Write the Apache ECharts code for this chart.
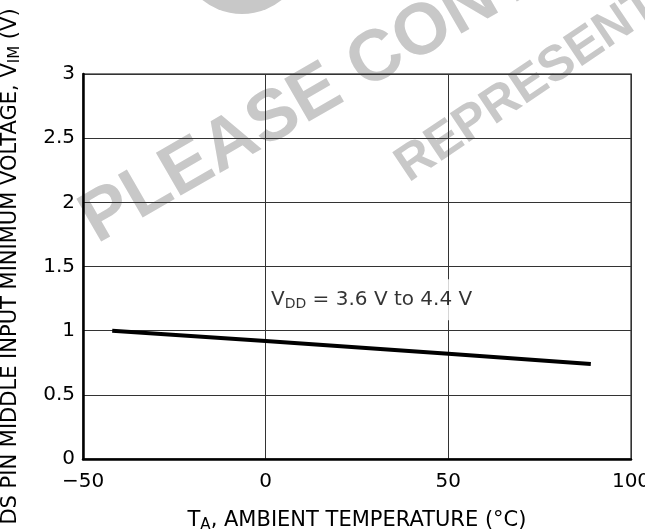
<!DOCTYPE html>
<html><head><meta charset="utf-8">
<script src="https://cdn.jsdelivr.net/npm/echarts@6/dist/echarts.min.js"></script>
<style>html,body{margin:0;padding:0;background:#fff}#c{width:645px;height:531px}</style>
</head><body><div id="c"></div>
<script>
// Data
const temperatures = [-42, 0, 50, 89];
const vimValues = [1.0, 0.92, 0.82, 0.74];
const xTicks = [-50, 0, 50, 100];
const yTicks = [0, 0.5, 1, 1.5, 2, 2.5, 3];
const annotationPoint = [29, 1.24];
const annotationText = '{v|V}{s|DD}{v| = 3.6 V to 4.4 V}';
const xTitle = '{v|T}{s|A}{v|, AMBIENT TEMPERATURE (°C)}';
const yTitle = '{v|DS PIN MIDDLE INPUT MINIMUM VOLTAGE, V}{s|IM}{v| (V)}';
const watermark1 = 'PLEASE CONTACT';
const watermark2 = 'REPRESENTATIVE';

const FONT = "'DejaVu Sans', 'Liberation Sans', Arial, sans-serif";
const WFONT = "'Liberation Sans', Arial, sans-serif";
const chart = echarts.init(document.getElementById('c'), null, {renderer: 'canvas'});
const richLabel = {
  v: {fontSize: 20, fontFamily: FONT, color: '#000'},
  s: {fontSize: 14, fontFamily: FONT, color: '#000', padding: [9, 0, 0, 0]}
};
const richTitle = {
  v: {fontSize: 21, fontFamily: FONT, color: '#000'},
  s: {fontSize: 15, fontFamily: FONT, color: '#000', padding: [10, 0, 0, 0]}
};
chart.setOption({
  animation: false,
  backgroundColor: '#fff',
  grid: {left: 83, right: 14, top: 74, bottom: 72, containLabel: false, outerBoundsMode: 'none',
    show: true, borderColor: '#555', borderWidth: 1.5},
  graphic: [
    {type: 'circle', z: -10, shape: {cx: 242, cy: -49, r: 63}, style: {fill: '#c8c8c8'}},
    {type: 'text', z: -10, x: 105, y: 258, rotation: 30 * Math.PI / 180,
      style: {text: watermark1, fill: '#c8c8c8', font: 'bold 72px ' + WFONT, textVerticalAlign: 'bottom'}},
    {type: 'text', z: -10, x: 415, y: 192, rotation: 34 * Math.PI / 180,
      style: {text: watermark2, fill: '#c8c8c8', font: 'bold 50px ' + WFONT, textVerticalAlign: 'bottom'}}
  ],
  xAxis: {
    type: 'value', min: xTicks[0], max: xTicks[xTicks.length - 1], interval: 50,
    axisLine: {show: true, onZero: false, lineStyle: {color: '#000', width: 2.5}},
    axisTick: {show: false},
    axisLabel: {margin: 13, fontSize: 20, fontFamily: FONT, color: '#000',
      formatter: v => String(v).replace('-', '\u2212')},
    splitLine: {show: true, lineStyle: {color: '#333', width: 1}},
    name: xTitle, nameLocation: 'middle', nameGap: 49,
    nameTextStyle: {rich: richTitle}
  },
  yAxis: {
    type: 'value', min: yTicks[0], max: yTicks[yTicks.length - 1], interval: 0.5,
    axisLine: {show: true, onZero: false, lineStyle: {color: '#000', width: 2.5}},
    axisTick: {show: false},
    axisLabel: {margin: 8, fontSize: 20, fontFamily: FONT, color: '#000'},
    splitLine: {show: true, lineStyle: {color: '#333', width: 1}},
    name: yTitle, nameLocation: 'middle', nameGap: 60,
    nameTextStyle: {rich: richTitle}
  },
  series: [
    {type: 'line', data: temperatures.map((t, i) => [t, vimValues[i]]), showSymbol: false,
      lineStyle: {color: '#000', width: 4}, z: 3},
    {type: 'scatter', data: [annotationPoint], symbolSize: 0, silent: true, z: 4,
      label: {show: true, position: 'inside', color: '#000', formatter: annotationText, backgroundColor: '#fff',
        padding: [9, 3, 9, 3], rich: richLabel}}
  ]
});
</script></body></html>
